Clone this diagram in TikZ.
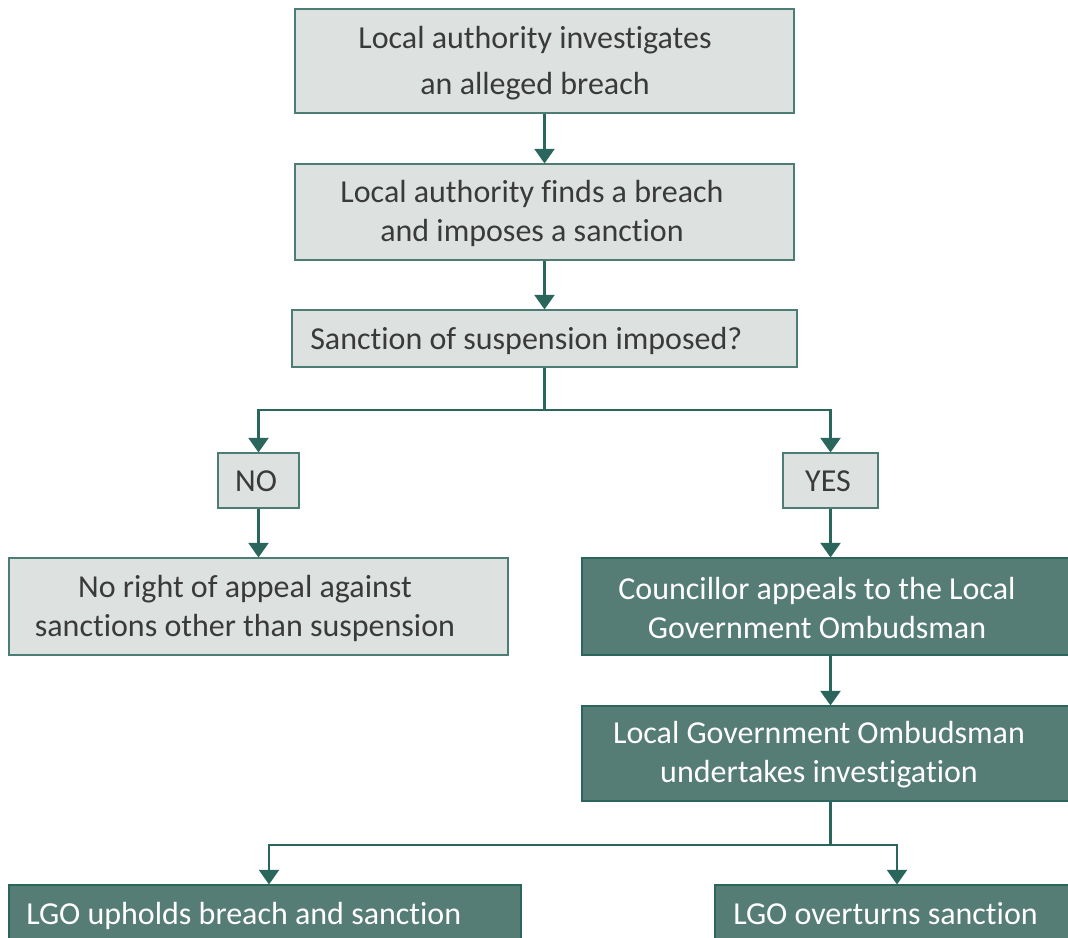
\documentclass[tikz,border=0pt]{standalone}
\usepackage{fontspec}
\setmainfont{Carlito}[Ligatures={NoCommon}]
\usetikzlibrary{arrows.meta}
\definecolor{lightbox}{HTML}{DDE1DF}
\definecolor{darkbox}{HTML}{557C75}
\definecolor{linec}{HTML}{2B665C}
\definecolor{txt}{HTML}{3A3A3A}
\begin{document}
\begin{tikzpicture}[x=0.75pt,y=-0.75pt,
  lbox/.style={draw=linec!85, line width=0.8pt, fill=lightbox, inner sep=0pt},
  dbox/.style={draw=linec, line width=0.8pt, fill=darkbox, inner sep=0pt},
  ltext/.style={text=txt, align=center, inner sep=0pt},
  dtext/.style={text=white, align=center, inner sep=0pt},
  conn/.style={draw=linec, line width=1.9pt, -{Triangle[width=15pt,length=11pt]}},
  wire/.style={draw=linec, line width=1.9pt}]
\useasboundingbox (0,0) rectangle (1068,938);
\clip (0,0) rectangle (1068,938);
\fill[white] (0,0) rectangle (1068,938);
% boxes
\node[lbox, minimum width=374.25pt, minimum height=78pt] (b1) at (544.5,61) {};
\node[lbox, minimum width=374.25pt, minimum height=72pt] (b2) at (544.5,212) {};
\node[lbox, minimum width=378.75pt, minimum height=42.75pt] (b3) at (544.5,338.5) {};
\node[lbox, minimum width=60.75pt, minimum height=41.25pt] (no) at (258.5,480.5) {};
\node[lbox, minimum width=71.25pt, minimum height=41.25pt] (yes) at (830.5,480.5) {};
\node[lbox, minimum width=374.25pt, minimum height=72.75pt] (nr) at (258.5,606.5) {};
\node[dbox, minimum width=369.75pt, minimum height=72.75pt] (ca) at (828.5,606.5) {};
\node[dbox, minimum width=369.75pt, minimum height=71.25pt] (lgo) at (828.5,753.5) {};
\node[dbox, minimum width=384pt, minimum height=48.75pt] (up) at (265,917.5) {};
\node[dbox, minimum width=270pt, minimum height=48.75pt] (ov) at (895,917.5) {};
% texts
\node[ltext, font=\fontsize{24}{34.5}\selectfont] (t1) at (535,63) {Local authority investigates\\an alleged breach};
\node[ltext, font=\fontsize{24}{29.25}\selectfont] (t2) at (532,213) {Local authority finds a breach\\and imposes a sanction};
\node[ltext, font=\fontsize{24}{29.25}\selectfont, anchor=base west] (t3) at (310,349) {Sanction of suspension imposed?};
\node[ltext, font=\fontsize{24}{29.25}\selectfont] (tno) at (256,481) {NO};
\node[ltext, font=\fontsize{24}{29.25}\selectfont] (tyes) at (828,481) {YES};
\node[ltext, font=\fontsize{24}{29.25}\selectfont] (tnr) at (245,608) {No right of appeal against\\sanctions other than suspension};
\node[dtext, font=\fontsize{24}{29.25}\selectfont] (tca) at (817,608) {Councillor appeals to the Local\\Government Ombudsman};
\node[dtext, font=\fontsize{24}{29.25}\selectfont] (tlgo) at (819,755) {Local Government Ombudsman\\undertakes investigation};
\node[dtext, font=\fontsize{24}{29.25}\selectfont, anchor=base west] (tup) at (26,924) {LGO upholds breach and sanction};
\node[dtext, font=\fontsize{24}{29.25}\selectfont, anchor=base west] (tov) at (733,924) {LGO overturns sanction};
% connectors
\draw[conn] (b1.south) -- (b2.north);
\draw[conn] (b2.south) -- (b3.north);
\coordinate (j1) at (544.5,410);
\draw[wire] (b3.south) -- (j1);
\draw[conn] (j1) -| (no.north);
\draw[conn] (j1) -| (yes.north);
\draw[conn] (no.south) -- (no.south |- nr.north);
\draw[conn] (yes.south) -- (yes.south |- ca.north);
\draw[conn] (yes.south |- ca.south) -- (yes.south |- lgo.north);
\coordinate (j2) at (830.5,845);
\draw[wire] (yes.south |- lgo.south) -- (j2);
\draw[conn] (j2) -| ([xshift=3pt]up.north);
\draw[conn] (j2) -| ([xshift=1.5pt]ov.north);
\end{tikzpicture}
\end{document}
